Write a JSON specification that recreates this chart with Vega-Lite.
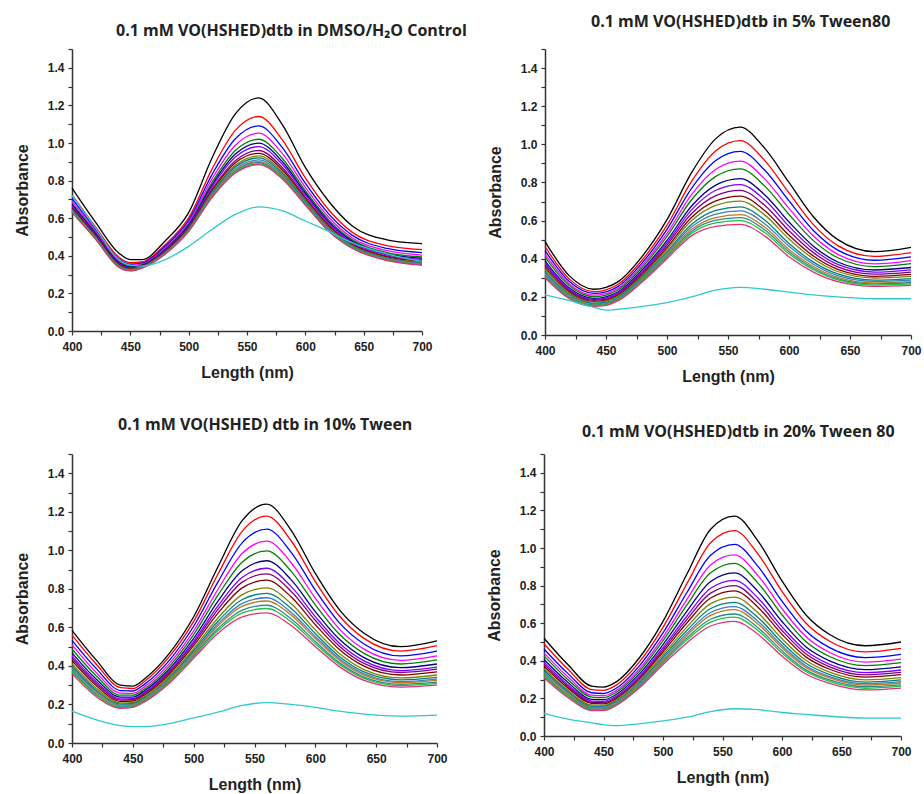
{
"$schema":"https://vega.github.io/schema/vega-lite/v6.json",
"background":"white",
"padding":{"left":14,"top":14,"right":5,"bottom":5},
"spacing":33,
"config":{
"view":{"stroke":null},
"title":{"font":"Open Sans","fontSize":16,"fontWeight":"bold","color":"#222222","anchor":"start","frame":"group"},
"axis":{"domainColor":"#333333","domainWidth":1.5,"tickColor":"#333333","tickSize":4,"tickWidth":1.2,"labelFont":"Liberation Sans","labelFontSize":12,"labelFontWeight":"bold","labelColor":"#222222","titleFont":"Liberation Sans","titleFontSize":16,"titleFontWeight":"bold","titleColor":"#222222","grid":false,"labelOverlap":false,"labelFlush":false,"labelPadding":4},
"axisX":{"titlePadding":12,"labelPadding":6},
"axisY":{"titlePadding":17},
"line":{"strokeWidth":1.3,"interpolate":"monotone"}
},
"datasets":{
"A":[
{"s":0,"x":400,"y":0.76},{"s":0,"x":420,"y":0.58},{"s":0,"x":440,"y":0.415},{"s":0,"x":450,"y":0.38},{"s":0,"x":460,"y":0.38},{"s":0,"x":480,"y":0.48},{"s":0,"x":500,"y":0.63},{"s":0,"x":520,"y":0.92},{"s":0,"x":540,"y":1.155},{"s":0,"x":560,"y":1.24},{"s":0,"x":580,"y":1.1},{"s":0,"x":600,"y":0.87},{"s":0,"x":620,"y":0.69},{"s":0,"x":640,"y":0.56},{"s":0,"x":670,"y":0.485},{"s":0,"x":700,"y":0.465},
{"s":1,"x":400,"y":0.724},{"s":1,"x":420,"y":0.555},{"s":1,"x":440,"y":0.394},{"s":1,"x":450,"y":0.363},{"s":1,"x":460,"y":0.367},{"s":1,"x":480,"y":0.46},{"s":1,"x":500,"y":0.602},{"s":1,"x":520,"y":0.861},{"s":1,"x":540,"y":1.067},{"s":1,"x":560,"y":1.141},{"s":1,"x":580,"y":1.019},{"s":1,"x":600,"y":0.814},{"s":1,"x":620,"y":0.645},{"s":1,"x":640,"y":0.526},{"s":1,"x":670,"y":0.454},{"s":1,"x":700,"y":0.433},
{"s":2,"x":400,"y":0.705},{"s":2,"x":420,"y":0.542},{"s":2,"x":440,"y":0.384},{"s":2,"x":450,"y":0.355},{"s":2,"x":460,"y":0.361},{"s":2,"x":480,"y":0.451},{"s":2,"x":500,"y":0.588},{"s":2,"x":520,"y":0.832},{"s":2,"x":540,"y":1.023},{"s":2,"x":560,"y":1.091},{"s":2,"x":580,"y":0.978},{"s":2,"x":600,"y":0.786},{"s":2,"x":620,"y":0.623},{"s":2,"x":640,"y":0.51},{"s":2,"x":670,"y":0.439},{"s":2,"x":700,"y":0.417},
{"s":3,"x":400,"y":0.691},{"s":3,"x":420,"y":0.532},{"s":3,"x":440,"y":0.375},{"s":3,"x":450,"y":0.348},{"s":3,"x":460,"y":0.356},{"s":3,"x":480,"y":0.443},{"s":3,"x":500,"y":0.577},{"s":3,"x":520,"y":0.809},{"s":3,"x":540,"y":0.988},{"s":3,"x":560,"y":1.052},{"s":3,"x":580,"y":0.946},{"s":3,"x":600,"y":0.764},{"s":3,"x":620,"y":0.605},{"s":3,"x":640,"y":0.496},{"s":3,"x":670,"y":0.427},{"s":3,"x":700,"y":0.404},
{"s":4,"x":400,"y":0.679},{"s":4,"x":420,"y":0.524},{"s":4,"x":440,"y":0.369},{"s":4,"x":450,"y":0.343},{"s":4,"x":460,"y":0.352},{"s":4,"x":480,"y":0.437},{"s":4,"x":500,"y":0.568},{"s":4,"x":520,"y":0.79},{"s":4,"x":540,"y":0.96},{"s":4,"x":560,"y":1.02},{"s":4,"x":580,"y":0.92},{"s":4,"x":600,"y":0.746},{"s":4,"x":620,"y":0.591},{"s":4,"x":640,"y":0.486},{"s":4,"x":670,"y":0.417},{"s":4,"x":700,"y":0.394},
{"s":5,"x":400,"y":0.672},{"s":5,"x":420,"y":0.519},{"s":5,"x":440,"y":0.364},{"s":5,"x":450,"y":0.339},{"s":5,"x":460,"y":0.349},{"s":5,"x":480,"y":0.432},{"s":5,"x":500,"y":0.562},{"s":5,"x":520,"y":0.777},{"s":5,"x":540,"y":0.941},{"s":5,"x":560,"y":0.999},{"s":5,"x":580,"y":0.903},{"s":5,"x":600,"y":0.734},{"s":5,"x":620,"y":0.581},{"s":5,"x":640,"y":0.478},{"s":5,"x":670,"y":0.41},{"s":5,"x":700,"y":0.387},
{"s":6,"x":400,"y":0.665},{"s":6,"x":420,"y":0.514},{"s":6,"x":440,"y":0.36},{"s":6,"x":450,"y":0.336},{"s":6,"x":460,"y":0.347},{"s":6,"x":480,"y":0.429},{"s":6,"x":500,"y":0.557},{"s":6,"x":520,"y":0.767},{"s":6,"x":540,"y":0.925},{"s":6,"x":560,"y":0.981},{"s":6,"x":580,"y":0.888},{"s":6,"x":600,"y":0.724},{"s":6,"x":620,"y":0.573},{"s":6,"x":640,"y":0.472},{"s":6,"x":670,"y":0.405},{"s":6,"x":700,"y":0.381},
{"s":7,"x":400,"y":0.657},{"s":7,"x":420,"y":0.509},{"s":7,"x":440,"y":0.356},{"s":7,"x":450,"y":0.333},{"s":7,"x":460,"y":0.345},{"s":7,"x":480,"y":0.425},{"s":7,"x":500,"y":0.551},{"s":7,"x":520,"y":0.754},{"s":7,"x":540,"y":0.906},{"s":7,"x":560,"y":0.96},{"s":7,"x":580,"y":0.871},{"s":7,"x":600,"y":0.712},{"s":7,"x":620,"y":0.564},{"s":7,"x":640,"y":0.465},{"s":7,"x":670,"y":0.398},{"s":7,"x":700,"y":0.374},
{"s":8,"x":400,"y":0.652},{"s":8,"x":420,"y":0.505},{"s":8,"x":440,"y":0.353},{"s":8,"x":450,"y":0.33},{"s":8,"x":460,"y":0.343},{"s":8,"x":480,"y":0.422},{"s":8,"x":500,"y":0.547},{"s":8,"x":520,"y":0.746},{"s":8,"x":540,"y":0.894},{"s":8,"x":560,"y":0.945},{"s":8,"x":580,"y":0.859},{"s":8,"x":600,"y":0.704},{"s":8,"x":620,"y":0.557},{"s":8,"x":640,"y":0.46},{"s":8,"x":670,"y":0.394},{"s":8,"x":700,"y":0.37},
{"s":9,"x":400,"y":0.647},{"s":9,"x":420,"y":0.502},{"s":9,"x":440,"y":0.35},{"s":9,"x":450,"y":0.328},{"s":9,"x":460,"y":0.341},{"s":9,"x":480,"y":0.419},{"s":9,"x":500,"y":0.543},{"s":9,"x":520,"y":0.737},{"s":9,"x":540,"y":0.881},{"s":9,"x":560,"y":0.931},{"s":9,"x":580,"y":0.848},{"s":9,"x":600,"y":0.696},{"s":9,"x":620,"y":0.551},{"s":9,"x":640,"y":0.456},{"s":9,"x":670,"y":0.389},{"s":9,"x":700,"y":0.365},
{"s":10,"x":400,"y":0.643},{"s":10,"x":420,"y":0.499},{"s":10,"x":440,"y":0.348},{"s":10,"x":450,"y":0.326},{"s":10,"x":460,"y":0.34},{"s":10,"x":480,"y":0.417},{"s":10,"x":500,"y":0.54},{"s":10,"x":520,"y":0.731},{"s":10,"x":540,"y":0.872},{"s":10,"x":560,"y":0.921},{"s":10,"x":580,"y":0.839},{"s":10,"x":600,"y":0.69},{"s":10,"x":620,"y":0.546},{"s":10,"x":640,"y":0.452},{"s":10,"x":670,"y":0.386},{"s":10,"x":700,"y":0.362},
{"s":11,"x":400,"y":0.639},{"s":11,"x":420,"y":0.496},{"s":11,"x":440,"y":0.345},{"s":11,"x":450,"y":0.324},{"s":11,"x":460,"y":0.338},{"s":11,"x":480,"y":0.415},{"s":11,"x":500,"y":0.537},{"s":11,"x":520,"y":0.725},{"s":11,"x":540,"y":0.862},{"s":11,"x":560,"y":0.91},{"s":11,"x":580,"y":0.83},{"s":11,"x":600,"y":0.684},{"s":11,"x":620,"y":0.541},{"s":11,"x":640,"y":0.448},{"s":11,"x":670,"y":0.383},{"s":11,"x":700,"y":0.358},
{"s":12,"x":400,"y":0.636},{"s":12,"x":420,"y":0.494},{"s":12,"x":440,"y":0.343},{"s":12,"x":450,"y":0.323},{"s":12,"x":460,"y":0.337},{"s":12,"x":480,"y":0.413},{"s":12,"x":500,"y":0.535},{"s":12,"x":520,"y":0.72},{"s":12,"x":540,"y":0.854},{"s":12,"x":560,"y":0.901},{"s":12,"x":580,"y":0.823},{"s":12,"x":600,"y":0.679},{"s":12,"x":620,"y":0.537},{"s":12,"x":640,"y":0.445},{"s":12,"x":670,"y":0.38},{"s":12,"x":700,"y":0.355},
{"s":13,"x":400,"y":0.634},{"s":13,"x":420,"y":0.493},{"s":13,"x":440,"y":0.342},{"s":13,"x":450,"y":0.322},{"s":13,"x":460,"y":0.336},{"s":13,"x":480,"y":0.412},{"s":13,"x":500,"y":0.533},{"s":13,"x":520,"y":0.716},{"s":13,"x":540,"y":0.85},{"s":13,"x":560,"y":0.896},{"s":13,"x":580,"y":0.819},{"s":13,"x":600,"y":0.676},{"s":13,"x":620,"y":0.535},{"s":13,"x":640,"y":0.444},{"s":13,"x":670,"y":0.378},{"s":13,"x":700,"y":0.353},
{"s":14,"x":400,"y":0.632},{"s":14,"x":420,"y":0.491},{"s":14,"x":440,"y":0.341},{"s":14,"x":450,"y":0.321},{"s":14,"x":460,"y":0.336},{"s":14,"x":480,"y":0.411},{"s":14,"x":500,"y":0.532},{"s":14,"x":520,"y":0.713},{"s":14,"x":540,"y":0.845},{"s":14,"x":560,"y":0.89},{"s":14,"x":580,"y":0.814},{"s":14,"x":600,"y":0.673},{"s":14,"x":620,"y":0.532},{"s":14,"x":640,"y":0.442},{"s":14,"x":670,"y":0.377},{"s":14,"x":700,"y":0.352},
{"s":15,"x":400,"y":0.63},{"s":15,"x":420,"y":0.49},{"s":15,"x":440,"y":0.34},{"s":15,"x":450,"y":0.32},{"s":15,"x":460,"y":0.335},{"s":15,"x":480,"y":0.41},{"s":15,"x":500,"y":0.53},{"s":15,"x":520,"y":0.71},{"s":15,"x":540,"y":0.84},{"s":15,"x":560,"y":0.885},{"s":15,"x":580,"y":0.81},{"s":15,"x":600,"y":0.67},{"s":15,"x":620,"y":0.53},{"s":15,"x":640,"y":0.44},{"s":15,"x":670,"y":0.375},{"s":15,"x":700,"y":0.35},
{"s":16,"x":400,"y":0.72},{"s":16,"x":420,"y":0.55},{"s":16,"x":440,"y":0.38},{"s":16,"x":450,"y":0.35},{"s":16,"x":460,"y":0.345},{"s":16,"x":480,"y":0.38},{"s":16,"x":500,"y":0.45},{"s":16,"x":520,"y":0.54},{"s":16,"x":540,"y":0.62},{"s":16,"x":560,"y":0.66},{"s":16,"x":580,"y":0.64},{"s":16,"x":600,"y":0.585},{"s":16,"x":620,"y":0.53},{"s":16,"x":640,"y":0.47},{"s":16,"x":670,"y":0.41},{"s":16,"x":700,"y":0.37}
],
"B":[
{"s":0,"x":400,"y":0.49},{"s":0,"x":420,"y":0.31},{"s":0,"x":440,"y":0.24},{"s":0,"x":450,"y":0.25},{"s":0,"x":460,"y":0.28},{"s":0,"x":480,"y":0.415},{"s":0,"x":500,"y":0.605},{"s":0,"x":520,"y":0.85},{"s":0,"x":540,"y":1.03},{"s":0,"x":560,"y":1.09},{"s":0,"x":580,"y":0.98},{"s":0,"x":600,"y":0.8},{"s":0,"x":620,"y":0.62},{"s":0,"x":640,"y":0.5},{"s":0,"x":670,"y":0.437},{"s":0,"x":700,"y":0.46},
{"s":1,"x":400,"y":0.463},{"s":1,"x":420,"y":0.293},{"s":1,"x":440,"y":0.227},{"s":1,"x":450,"y":0.237},{"s":1,"x":460,"y":0.266},{"s":1,"x":480,"y":0.396},{"s":1,"x":500,"y":0.576},{"s":1,"x":520,"y":0.804},{"s":1,"x":540,"y":0.966},{"s":1,"x":560,"y":1.019},{"s":1,"x":580,"y":0.916},{"s":1,"x":600,"y":0.745},{"s":1,"x":620,"y":0.579},{"s":1,"x":640,"y":0.469},{"s":1,"x":670,"y":0.412},{"s":1,"x":700,"y":0.432},
{"s":2,"x":400,"y":0.443},{"s":2,"x":420,"y":0.28},{"s":2,"x":440,"y":0.218},{"s":2,"x":450,"y":0.226},{"s":2,"x":460,"y":0.255},{"s":2,"x":480,"y":0.381},{"s":2,"x":500,"y":0.554},{"s":2,"x":520,"y":0.768},{"s":2,"x":540,"y":0.915},{"s":2,"x":560,"y":0.963},{"s":2,"x":580,"y":0.865},{"s":2,"x":600,"y":0.703},{"s":2,"x":620,"y":0.548},{"s":2,"x":640,"y":0.445},{"s":2,"x":670,"y":0.392},{"s":2,"x":700,"y":0.41},
{"s":3,"x":400,"y":0.424},{"s":3,"x":420,"y":0.268},{"s":3,"x":440,"y":0.209},{"s":3,"x":450,"y":0.217},{"s":3,"x":460,"y":0.245},{"s":3,"x":480,"y":0.368},{"s":3,"x":500,"y":0.533},{"s":3,"x":520,"y":0.735},{"s":3,"x":540,"y":0.869},{"s":3,"x":560,"y":0.912},{"s":3,"x":580,"y":0.819},{"s":3,"x":600,"y":0.664},{"s":3,"x":620,"y":0.519},{"s":3,"x":640,"y":0.423},{"s":3,"x":670,"y":0.373},{"s":3,"x":700,"y":0.39},
{"s":4,"x":400,"y":0.408},{"s":4,"x":420,"y":0.258},{"s":4,"x":440,"y":0.201},{"s":4,"x":450,"y":0.209},{"s":4,"x":460,"y":0.237},{"s":4,"x":480,"y":0.357},{"s":4,"x":500,"y":0.517},{"s":4,"x":520,"y":0.708},{"s":4,"x":540,"y":0.832},{"s":4,"x":560,"y":0.871},{"s":4,"x":580,"y":0.782},{"s":4,"x":600,"y":0.632},{"s":4,"x":620,"y":0.495},{"s":4,"x":640,"y":0.405},{"s":4,"x":670,"y":0.359},{"s":4,"x":700,"y":0.374},
{"s":5,"x":400,"y":0.389},{"s":5,"x":420,"y":0.246},{"s":5,"x":440,"y":0.192},{"s":5,"x":450,"y":0.2},{"s":5,"x":460,"y":0.227},{"s":5,"x":480,"y":0.344},{"s":5,"x":500,"y":0.496},{"s":5,"x":520,"y":0.675},{"s":5,"x":540,"y":0.786},{"s":5,"x":560,"y":0.82},{"s":5,"x":580,"y":0.736},{"s":5,"x":600,"y":0.593},{"s":5,"x":620,"y":0.466},{"s":5,"x":640,"y":0.383},{"s":5,"x":670,"y":0.341},{"s":5,"x":700,"y":0.354},
{"s":6,"x":400,"y":0.378},{"s":6,"x":420,"y":0.239},{"s":6,"x":440,"y":0.187},{"s":6,"x":450,"y":0.194},{"s":6,"x":460,"y":0.221},{"s":6,"x":480,"y":0.335},{"s":6,"x":500,"y":0.484},{"s":6,"x":520,"y":0.655},{"s":6,"x":540,"y":0.759},{"s":6,"x":560,"y":0.789},{"s":6,"x":580,"y":0.709},{"s":6,"x":600,"y":0.57},{"s":6,"x":620,"y":0.449},{"s":6,"x":640,"y":0.37},{"s":6,"x":670,"y":0.33},{"s":6,"x":700,"y":0.342},
{"s":7,"x":400,"y":0.367},{"s":7,"x":420,"y":0.232},{"s":7,"x":440,"y":0.182},{"s":7,"x":450,"y":0.188},{"s":7,"x":460,"y":0.215},{"s":7,"x":480,"y":0.327},{"s":7,"x":500,"y":0.472},{"s":7,"x":520,"y":0.636},{"s":7,"x":540,"y":0.731},{"s":7,"x":560,"y":0.759},{"s":7,"x":580,"y":0.681},{"s":7,"x":600,"y":0.547},{"s":7,"x":620,"y":0.432},{"s":7,"x":640,"y":0.357},{"s":7,"x":670,"y":0.319},{"s":7,"x":700,"y":0.33},
{"s":8,"x":400,"y":0.355},{"s":8,"x":420,"y":0.225},{"s":8,"x":440,"y":0.176},{"s":8,"x":450,"y":0.183},{"s":8,"x":460,"y":0.209},{"s":8,"x":480,"y":0.319},{"s":8,"x":500,"y":0.459},{"s":8,"x":520,"y":0.616},{"s":8,"x":540,"y":0.703},{"s":8,"x":560,"y":0.728},{"s":8,"x":580,"y":0.653},{"s":8,"x":600,"y":0.523},{"s":8,"x":620,"y":0.414},{"s":8,"x":640,"y":0.344},{"s":8,"x":670,"y":0.308},{"s":8,"x":700,"y":0.318},
{"s":9,"x":400,"y":0.346},{"s":9,"x":420,"y":0.219},{"s":9,"x":440,"y":0.172},{"s":9,"x":450,"y":0.178},{"s":9,"x":460,"y":0.204},{"s":9,"x":480,"y":0.312},{"s":9,"x":500,"y":0.449},{"s":9,"x":520,"y":0.599},{"s":9,"x":540,"y":0.68},{"s":9,"x":560,"y":0.702},{"s":9,"x":580,"y":0.63},{"s":9,"x":600,"y":0.504},{"s":9,"x":620,"y":0.4},{"s":9,"x":640,"y":0.333},{"s":9,"x":670,"y":0.299},{"s":9,"x":700,"y":0.308},
{"s":10,"x":400,"y":0.334},{"s":10,"x":420,"y":0.212},{"s":10,"x":440,"y":0.166},{"s":10,"x":450,"y":0.172},{"s":10,"x":460,"y":0.198},{"s":10,"x":480,"y":0.304},{"s":10,"x":500,"y":0.437},{"s":10,"x":520,"y":0.579},{"s":10,"x":540,"y":0.653},{"s":10,"x":560,"y":0.672},{"s":10,"x":580,"y":0.603},{"s":10,"x":600,"y":0.48},{"s":10,"x":620,"y":0.382},{"s":10,"x":640,"y":0.32},{"s":10,"x":670,"y":0.288},{"s":10,"x":700,"y":0.296},
{"s":11,"x":400,"y":0.327},{"s":11,"x":420,"y":0.207},{"s":11,"x":440,"y":0.163},{"s":11,"x":450,"y":0.168},{"s":11,"x":460,"y":0.194},{"s":11,"x":480,"y":0.299},{"s":11,"x":500,"y":0.429},{"s":11,"x":520,"y":0.566},{"s":11,"x":540,"y":0.634},{"s":11,"x":560,"y":0.651},{"s":11,"x":580,"y":0.584},{"s":11,"x":600,"y":0.465},{"s":11,"x":620,"y":0.371},{"s":11,"x":640,"y":0.311},{"s":11,"x":670,"y":0.281},{"s":11,"x":700,"y":0.288},
{"s":12,"x":400,"y":0.319},{"s":12,"x":420,"y":0.202},{"s":12,"x":440,"y":0.159},{"s":12,"x":450,"y":0.165},{"s":12,"x":460,"y":0.19},{"s":12,"x":480,"y":0.294},{"s":12,"x":500,"y":0.421},{"s":12,"x":520,"y":0.553},{"s":12,"x":540,"y":0.616},{"s":12,"x":560,"y":0.631},{"s":12,"x":580,"y":0.566},{"s":12,"x":600,"y":0.449},{"s":12,"x":620,"y":0.359},{"s":12,"x":640,"y":0.302},{"s":12,"x":670,"y":0.273},{"s":12,"x":700,"y":0.28},
{"s":13,"x":400,"y":0.313},{"s":13,"x":420,"y":0.198},{"s":13,"x":440,"y":0.156},{"s":13,"x":450,"y":0.162},{"s":13,"x":460,"y":0.187},{"s":13,"x":480,"y":0.29},{"s":13,"x":500,"y":0.414},{"s":13,"x":520,"y":0.543},{"s":13,"x":540,"y":0.602},{"s":13,"x":560,"y":0.616},{"s":13,"x":580,"y":0.552},{"s":13,"x":600,"y":0.437},{"s":13,"x":620,"y":0.35},{"s":13,"x":640,"y":0.295},{"s":13,"x":670,"y":0.268},{"s":13,"x":700,"y":0.274},
{"s":14,"x":400,"y":0.308},{"s":14,"x":420,"y":0.195},{"s":14,"x":440,"y":0.154},{"s":14,"x":450,"y":0.159},{"s":14,"x":460,"y":0.184},{"s":14,"x":480,"y":0.285},{"s":14,"x":500,"y":0.408},{"s":14,"x":520,"y":0.533},{"s":14,"x":540,"y":0.588},{"s":14,"x":560,"y":0.6},{"s":14,"x":580,"y":0.538},{"s":14,"x":600,"y":0.426},{"s":14,"x":620,"y":0.342},{"s":14,"x":640,"y":0.289},{"s":14,"x":670,"y":0.262},{"s":14,"x":700,"y":0.268},
{"s":15,"x":400,"y":0.3},{"s":15,"x":420,"y":0.19},{"s":15,"x":440,"y":0.15},{"s":15,"x":450,"y":0.155},{"s":15,"x":460,"y":0.18},{"s":15,"x":480,"y":0.28},{"s":15,"x":500,"y":0.4},{"s":15,"x":520,"y":0.52},{"s":15,"x":540,"y":0.57},{"s":15,"x":560,"y":0.58},{"s":15,"x":580,"y":0.52},{"s":15,"x":600,"y":0.41},{"s":15,"x":620,"y":0.33},{"s":15,"x":640,"y":0.28},{"s":15,"x":670,"y":0.255},{"s":15,"x":700,"y":0.26},
{"s":16,"x":400,"y":0.21},{"s":16,"x":420,"y":0.18},{"s":16,"x":440,"y":0.145},{"s":16,"x":450,"y":0.13},{"s":16,"x":460,"y":0.135},{"s":16,"x":480,"y":0.15},{"s":16,"x":500,"y":0.17},{"s":16,"x":520,"y":0.2},{"s":16,"x":540,"y":0.235},{"s":16,"x":560,"y":0.25},{"s":16,"x":580,"y":0.24},{"s":16,"x":600,"y":0.225},{"s":16,"x":620,"y":0.21},{"s":16,"x":640,"y":0.2},{"s":16,"x":670,"y":0.19},{"s":16,"x":700,"y":0.19}
],
"C":[
{"s":0,"x":400,"y":0.585},{"s":0,"x":420,"y":0.43},{"s":0,"x":440,"y":0.3},{"s":0,"x":450,"y":0.295},{"s":0,"x":460,"y":0.335},{"s":0,"x":480,"y":0.465},{"s":0,"x":500,"y":0.655},{"s":0,"x":520,"y":0.915},{"s":0,"x":540,"y":1.155},{"s":0,"x":560,"y":1.24},{"s":0,"x":580,"y":1.105},{"s":0,"x":600,"y":0.88},{"s":0,"x":620,"y":0.69},{"s":0,"x":640,"y":0.57},{"s":0,"x":670,"y":0.5},{"s":0,"x":700,"y":0.53},
{"s":1,"x":400,"y":0.56},{"s":1,"x":420,"y":0.409},{"s":1,"x":440,"y":0.287},{"s":1,"x":450,"y":0.283},{"s":1,"x":460,"y":0.322},{"s":1,"x":480,"y":0.448},{"s":1,"x":500,"y":0.631},{"s":1,"x":520,"y":0.877},{"s":1,"x":540,"y":1.1},{"s":1,"x":560,"y":1.178},{"s":1,"x":580,"y":1.051},{"s":1,"x":600,"y":0.838},{"s":1,"x":620,"y":0.658},{"s":1,"x":640,"y":0.543},{"s":1,"x":670,"y":0.477},{"s":1,"x":700,"y":0.505},
{"s":2,"x":400,"y":0.533},{"s":2,"x":420,"y":0.386},{"s":2,"x":440,"y":0.272},{"s":2,"x":450,"y":0.27},{"s":2,"x":460,"y":0.307},{"s":2,"x":480,"y":0.429},{"s":2,"x":500,"y":0.606},{"s":2,"x":520,"y":0.836},{"s":2,"x":540,"y":1.04},{"s":2,"x":560,"y":1.11},{"s":2,"x":580,"y":0.991},{"s":2,"x":600,"y":0.793},{"s":2,"x":620,"y":0.622},{"s":2,"x":640,"y":0.514},{"s":2,"x":670,"y":0.452},{"s":2,"x":700,"y":0.477},
{"s":3,"x":400,"y":0.509},{"s":3,"x":420,"y":0.365},{"s":3,"x":440,"y":0.259},{"s":3,"x":450,"y":0.258},{"s":3,"x":460,"y":0.294},{"s":3,"x":480,"y":0.412},{"s":3,"x":500,"y":0.582},{"s":3,"x":520,"y":0.798},{"s":3,"x":540,"y":0.985},{"s":3,"x":560,"y":1.048},{"s":3,"x":580,"y":0.937},{"s":3,"x":600,"y":0.751},{"s":3,"x":620,"y":0.59},{"s":3,"x":640,"y":0.487},{"s":3,"x":670,"y":0.429},{"s":3,"x":700,"y":0.452},
{"s":4,"x":400,"y":0.488},{"s":4,"x":420,"y":0.348},{"s":4,"x":440,"y":0.248},{"s":4,"x":450,"y":0.248},{"s":4,"x":460,"y":0.283},{"s":4,"x":480,"y":0.398},{"s":4,"x":500,"y":0.563},{"s":4,"x":520,"y":0.767},{"s":4,"x":540,"y":0.94},{"s":4,"x":560,"y":0.997},{"s":4,"x":580,"y":0.892},{"s":4,"x":600,"y":0.717},{"s":4,"x":620,"y":0.563},{"s":4,"x":640,"y":0.465},{"s":4,"x":670,"y":0.41},{"s":4,"x":700,"y":0.431},
{"s":5,"x":400,"y":0.468},{"s":5,"x":420,"y":0.331},{"s":5,"x":440,"y":0.238},{"s":5,"x":450,"y":0.238},{"s":5,"x":460,"y":0.273},{"s":5,"x":480,"y":0.384},{"s":5,"x":500,"y":0.543},{"s":5,"x":520,"y":0.736},{"s":5,"x":540,"y":0.895},{"s":5,"x":560,"y":0.946},{"s":5,"x":580,"y":0.848},{"s":5,"x":600,"y":0.682},{"s":5,"x":620,"y":0.537},{"s":5,"x":640,"y":0.443},{"s":5,"x":670,"y":0.391},{"s":5,"x":700,"y":0.41},
{"s":6,"x":400,"y":0.452},{"s":6,"x":420,"y":0.318},{"s":6,"x":440,"y":0.229},{"s":6,"x":450,"y":0.23},{"s":6,"x":460,"y":0.264},{"s":6,"x":480,"y":0.374},{"s":6,"x":500,"y":0.528},{"s":6,"x":520,"y":0.712},{"s":6,"x":540,"y":0.86},{"s":6,"x":560,"y":0.907},{"s":6,"x":580,"y":0.813},{"s":6,"x":600,"y":0.656},{"s":6,"x":620,"y":0.516},{"s":6,"x":640,"y":0.426},{"s":6,"x":670,"y":0.376},{"s":6,"x":700,"y":0.394},
{"s":7,"x":400,"y":0.441},{"s":7,"x":420,"y":0.308},{"s":7,"x":440,"y":0.223},{"s":7,"x":450,"y":0.225},{"s":7,"x":460,"y":0.258},{"s":7,"x":480,"y":0.366},{"s":7,"x":500,"y":0.517},{"s":7,"x":520,"y":0.694},{"s":7,"x":540,"y":0.835},{"s":7,"x":560,"y":0.878},{"s":7,"x":580,"y":0.788},{"s":7,"x":600,"y":0.637},{"s":7,"x":620,"y":0.501},{"s":7,"x":640,"y":0.413},{"s":7,"x":670,"y":0.366},{"s":7,"x":700,"y":0.383},
{"s":8,"x":400,"y":0.428},{"s":8,"x":420,"y":0.297},{"s":8,"x":440,"y":0.216},{"s":8,"x":450,"y":0.218},{"s":8,"x":460,"y":0.251},{"s":8,"x":480,"y":0.357},{"s":8,"x":500,"y":0.505},{"s":8,"x":520,"y":0.674},{"s":8,"x":540,"y":0.805},{"s":8,"x":560,"y":0.845},{"s":8,"x":580,"y":0.759},{"s":8,"x":600,"y":0.614},{"s":8,"x":620,"y":0.484},{"s":8,"x":640,"y":0.399},{"s":8,"x":670,"y":0.353},{"s":8,"x":700,"y":0.369},
{"s":9,"x":400,"y":0.412},{"s":9,"x":420,"y":0.284},{"s":9,"x":440,"y":0.208},{"s":9,"x":450,"y":0.21},{"s":9,"x":460,"y":0.243},{"s":9,"x":480,"y":0.346},{"s":9,"x":500,"y":0.49},{"s":9,"x":520,"y":0.649},{"s":9,"x":540,"y":0.77},{"s":9,"x":560,"y":0.805},{"s":9,"x":580,"y":0.724},{"s":9,"x":600,"y":0.587},{"s":9,"x":620,"y":0.463},{"s":9,"x":640,"y":0.381},{"s":9,"x":670,"y":0.338},{"s":9,"x":700,"y":0.353},
{"s":10,"x":400,"y":0.401},{"s":10,"x":420,"y":0.274},{"s":10,"x":440,"y":0.202},{"s":10,"x":450,"y":0.205},{"s":10,"x":460,"y":0.237},{"s":10,"x":480,"y":0.338},{"s":10,"x":500,"y":0.479},{"s":10,"x":520,"y":0.632},{"s":10,"x":540,"y":0.745},{"s":10,"x":560,"y":0.777},{"s":10,"x":580,"y":0.699},{"s":10,"x":600,"y":0.568},{"s":10,"x":620,"y":0.448},{"s":10,"x":640,"y":0.369},{"s":10,"x":670,"y":0.328},{"s":10,"x":700,"y":0.341},
{"s":11,"x":400,"y":0.392},{"s":11,"x":420,"y":0.267},{"s":11,"x":440,"y":0.197},{"s":11,"x":450,"y":0.2},{"s":11,"x":460,"y":0.232},{"s":11,"x":480,"y":0.332},{"s":11,"x":500,"y":0.47},{"s":11,"x":520,"y":0.618},{"s":11,"x":540,"y":0.725},{"s":11,"x":560,"y":0.754},{"s":11,"x":580,"y":0.679},{"s":11,"x":600,"y":0.553},{"s":11,"x":620,"y":0.436},{"s":11,"x":640,"y":0.359},{"s":11,"x":670,"y":0.319},{"s":11,"x":700,"y":0.332},
{"s":12,"x":400,"y":0.385},{"s":12,"x":420,"y":0.261},{"s":12,"x":440,"y":0.193},{"s":12,"x":450,"y":0.197},{"s":12,"x":460,"y":0.228},{"s":12,"x":480,"y":0.327},{"s":12,"x":500,"y":0.464},{"s":12,"x":520,"y":0.608},{"s":12,"x":540,"y":0.71},{"s":12,"x":560,"y":0.737},{"s":12,"x":580,"y":0.665},{"s":12,"x":600,"y":0.542},{"s":12,"x":620,"y":0.428},{"s":12,"x":640,"y":0.352},{"s":12,"x":670,"y":0.313},{"s":12,"x":700,"y":0.325},
{"s":13,"x":400,"y":0.376},{"s":13,"x":420,"y":0.253},{"s":13,"x":440,"y":0.188},{"s":13,"x":450,"y":0.193},{"s":13,"x":460,"y":0.223},{"s":13,"x":480,"y":0.321},{"s":13,"x":500,"y":0.455},{"s":13,"x":520,"y":0.594},{"s":13,"x":540,"y":0.69},{"s":13,"x":560,"y":0.715},{"s":13,"x":580,"y":0.645},{"s":13,"x":600,"y":0.527},{"s":13,"x":620,"y":0.416},{"s":13,"x":640,"y":0.342},{"s":13,"x":670,"y":0.305},{"s":13,"x":700,"y":0.316},
{"s":14,"x":400,"y":0.369},{"s":14,"x":420,"y":0.248},{"s":14,"x":440,"y":0.185},{"s":14,"x":450,"y":0.189},{"s":14,"x":460,"y":0.22},{"s":14,"x":480,"y":0.316},{"s":14,"x":500,"y":0.449},{"s":14,"x":520,"y":0.584},{"s":14,"x":540,"y":0.675},{"s":14,"x":560,"y":0.698},{"s":14,"x":580,"y":0.63},{"s":14,"x":600,"y":0.515},{"s":14,"x":620,"y":0.407},{"s":14,"x":640,"y":0.335},{"s":14,"x":670,"y":0.298},{"s":14,"x":700,"y":0.309},
{"s":15,"x":400,"y":0.36},{"s":15,"x":420,"y":0.24},{"s":15,"x":440,"y":0.18},{"s":15,"x":450,"y":0.185},{"s":15,"x":460,"y":0.215},{"s":15,"x":480,"y":0.31},{"s":15,"x":500,"y":0.44},{"s":15,"x":520,"y":0.57},{"s":15,"x":540,"y":0.655},{"s":15,"x":560,"y":0.675},{"s":15,"x":580,"y":0.61},{"s":15,"x":600,"y":0.5},{"s":15,"x":620,"y":0.395},{"s":15,"x":640,"y":0.325},{"s":15,"x":670,"y":0.29},{"s":15,"x":700,"y":0.3},
{"s":16,"x":400,"y":0.165},{"s":16,"x":420,"y":0.12},{"s":16,"x":440,"y":0.09},{"s":16,"x":450,"y":0.085},{"s":16,"x":460,"y":0.085},{"s":16,"x":480,"y":0.1},{"s":16,"x":500,"y":0.13},{"s":16,"x":520,"y":0.16},{"s":16,"x":540,"y":0.195},{"s":16,"x":560,"y":0.21},{"s":16,"x":580,"y":0.2},{"s":16,"x":600,"y":0.185},{"s":16,"x":620,"y":0.165},{"s":16,"x":640,"y":0.15},{"s":16,"x":670,"y":0.14},{"s":16,"x":700,"y":0.145}
],
"D":[
{"s":0,"x":400,"y":0.52},{"s":0,"x":420,"y":0.38},{"s":0,"x":440,"y":0.265},{"s":0,"x":450,"y":0.26},{"s":0,"x":460,"y":0.285},{"s":0,"x":480,"y":0.415},{"s":0,"x":500,"y":0.61},{"s":0,"x":520,"y":0.86},{"s":0,"x":540,"y":1.1},{"s":0,"x":560,"y":1.17},{"s":0,"x":580,"y":1.035},{"s":0,"x":600,"y":0.825},{"s":0,"x":620,"y":0.645},{"s":0,"x":640,"y":0.54},{"s":0,"x":670,"y":0.48},{"s":0,"x":700,"y":0.5},
{"s":1,"x":400,"y":0.491},{"s":1,"x":420,"y":0.356},{"s":1,"x":440,"y":0.247},{"s":1,"x":450,"y":0.243},{"s":1,"x":460,"y":0.268},{"s":1,"x":480,"y":0.393},{"s":1,"x":500,"y":0.578},{"s":1,"x":520,"y":0.809},{"s":1,"x":540,"y":1.028},{"s":1,"x":560,"y":1.092},{"s":1,"x":580,"y":0.966},{"s":1,"x":600,"y":0.769},{"s":1,"x":620,"y":0.601},{"s":1,"x":640,"y":0.504},{"s":1,"x":670,"y":0.447},{"s":1,"x":700,"y":0.466},
{"s":2,"x":400,"y":0.463},{"s":2,"x":420,"y":0.333},{"s":2,"x":440,"y":0.23},{"s":2,"x":450,"y":0.226},{"s":2,"x":460,"y":0.251},{"s":2,"x":480,"y":0.372},{"s":2,"x":500,"y":0.548},{"s":2,"x":520,"y":0.762},{"s":2,"x":540,"y":0.961},{"s":2,"x":560,"y":1.019},{"s":2,"x":580,"y":0.901},{"s":2,"x":600,"y":0.717},{"s":2,"x":620,"y":0.56},{"s":2,"x":640,"y":0.47},{"s":2,"x":670,"y":0.417},{"s":2,"x":700,"y":0.434},
{"s":3,"x":400,"y":0.442},{"s":3,"x":420,"y":0.315},{"s":3,"x":440,"y":0.217},{"s":3,"x":450,"y":0.214},{"s":3,"x":460,"y":0.239},{"s":3,"x":480,"y":0.356},{"s":3,"x":500,"y":0.525},{"s":3,"x":520,"y":0.725},{"s":3,"x":540,"y":0.91},{"s":3,"x":560,"y":0.963},{"s":3,"x":580,"y":0.852},{"s":3,"x":600,"y":0.677},{"s":3,"x":620,"y":0.529},{"s":3,"x":640,"y":0.444},{"s":3,"x":670,"y":0.393},{"s":3,"x":700,"y":0.409},
{"s":4,"x":400,"y":0.426},{"s":4,"x":420,"y":0.301},{"s":4,"x":440,"y":0.207},{"s":4,"x":450,"y":0.204},{"s":4,"x":460,"y":0.229},{"s":4,"x":480,"y":0.343},{"s":4,"x":500,"y":0.507},{"s":4,"x":520,"y":0.696},{"s":4,"x":540,"y":0.868},{"s":4,"x":560,"y":0.918},{"s":4,"x":580,"y":0.812},{"s":4,"x":600,"y":0.645},{"s":4,"x":620,"y":0.503},{"s":4,"x":640,"y":0.423},{"s":4,"x":670,"y":0.374},{"s":4,"x":700,"y":0.39},
{"s":5,"x":400,"y":0.407},{"s":5,"x":420,"y":0.286},{"s":5,"x":440,"y":0.195},{"s":5,"x":450,"y":0.193},{"s":5,"x":460,"y":0.218},{"s":5,"x":480,"y":0.329},{"s":5,"x":500,"y":0.486},{"s":5,"x":520,"y":0.663},{"s":5,"x":540,"y":0.822},{"s":5,"x":560,"y":0.868},{"s":5,"x":580,"y":0.768},{"s":5,"x":600,"y":0.609},{"s":5,"x":620,"y":0.475},{"s":5,"x":640,"y":0.4},{"s":5,"x":670,"y":0.353},{"s":5,"x":700,"y":0.368},
{"s":6,"x":400,"y":0.392},{"s":6,"x":420,"y":0.273},{"s":6,"x":440,"y":0.186},{"s":6,"x":450,"y":0.184},{"s":6,"x":460,"y":0.209},{"s":6,"x":480,"y":0.317},{"s":6,"x":500,"y":0.47},{"s":6,"x":520,"y":0.637},{"s":6,"x":540,"y":0.786},{"s":6,"x":560,"y":0.828},{"s":6,"x":580,"y":0.733},{"s":6,"x":600,"y":0.581},{"s":6,"x":620,"y":0.453},{"s":6,"x":640,"y":0.381},{"s":6,"x":670,"y":0.337},{"s":6,"x":700,"y":0.351},
{"s":7,"x":400,"y":0.381},{"s":7,"x":420,"y":0.265},{"s":7,"x":440,"y":0.179},{"s":7,"x":450,"y":0.178},{"s":7,"x":460,"y":0.203},{"s":7,"x":480,"y":0.309},{"s":7,"x":500,"y":0.458},{"s":7,"x":520,"y":0.619},{"s":7,"x":540,"y":0.76},{"s":7,"x":560,"y":0.8},{"s":7,"x":580,"y":0.708},{"s":7,"x":600,"y":0.561},{"s":7,"x":620,"y":0.437},{"s":7,"x":640,"y":0.368},{"s":7,"x":670,"y":0.325},{"s":7,"x":700,"y":0.338},
{"s":8,"x":400,"y":0.371},{"s":8,"x":420,"y":0.256},{"s":8,"x":440,"y":0.173},{"s":8,"x":450,"y":0.171},{"s":8,"x":460,"y":0.196},{"s":8,"x":480,"y":0.301},{"s":8,"x":500,"y":0.447},{"s":8,"x":520,"y":0.601},{"s":8,"x":540,"y":0.734},{"s":8,"x":560,"y":0.772},{"s":8,"x":580,"y":0.684},{"s":8,"x":600,"y":0.541},{"s":8,"x":620,"y":0.421},{"s":8,"x":640,"y":0.355},{"s":8,"x":670,"y":0.313},{"s":8,"x":700,"y":0.326},
{"s":9,"x":400,"y":0.358},{"s":9,"x":420,"y":0.245},{"s":9,"x":440,"y":0.165},{"s":9,"x":450,"y":0.164},{"s":9,"x":460,"y":0.189},{"s":9,"x":480,"y":0.292},{"s":9,"x":500,"y":0.433},{"s":9,"x":520,"y":0.579},{"s":9,"x":540,"y":0.704},{"s":9,"x":560,"y":0.739},{"s":9,"x":580,"y":0.654},{"s":9,"x":600,"y":0.517},{"s":9,"x":620,"y":0.403},{"s":9,"x":640,"y":0.34},{"s":9,"x":670,"y":0.299},{"s":9,"x":700,"y":0.311},
{"s":10,"x":400,"y":0.348},{"s":10,"x":420,"y":0.237},{"s":10,"x":440,"y":0.158},{"s":10,"x":450,"y":0.158},{"s":10,"x":460,"y":0.183},{"s":10,"x":480,"y":0.284},{"s":10,"x":500,"y":0.421},{"s":10,"x":520,"y":0.561},{"s":10,"x":540,"y":0.678},{"s":10,"x":560,"y":0.711},{"s":10,"x":580,"y":0.629},{"s":10,"x":600,"y":0.497},{"s":10,"x":620,"y":0.387},{"s":10,"x":640,"y":0.327},{"s":10,"x":670,"y":0.287},{"s":10,"x":700,"y":0.299},
{"s":11,"x":400,"y":0.339},{"s":11,"x":420,"y":0.23},{"s":11,"x":440,"y":0.153},{"s":11,"x":450,"y":0.153},{"s":11,"x":460,"y":0.178},{"s":11,"x":480,"y":0.277},{"s":11,"x":500,"y":0.412},{"s":11,"x":520,"y":0.546},{"s":11,"x":540,"y":0.657},{"s":11,"x":560,"y":0.688},{"s":11,"x":580,"y":0.609},{"s":11,"x":600,"y":0.481},{"s":11,"x":620,"y":0.374},{"s":11,"x":640,"y":0.316},{"s":11,"x":670,"y":0.278},{"s":11,"x":700,"y":0.289},
{"s":12,"x":400,"y":0.333},{"s":12,"x":420,"y":0.224},{"s":12,"x":440,"y":0.149},{"s":12,"x":450,"y":0.149},{"s":12,"x":460,"y":0.174},{"s":12,"x":480,"y":0.273},{"s":12,"x":500,"y":0.405},{"s":12,"x":520,"y":0.535},{"s":12,"x":540,"y":0.642},{"s":12,"x":560,"y":0.672},{"s":12,"x":580,"y":0.595},{"s":12,"x":600,"y":0.469},{"s":12,"x":620,"y":0.365},{"s":12,"x":640,"y":0.309},{"s":12,"x":670,"y":0.271},{"s":12,"x":700,"y":0.282},
{"s":13,"x":400,"y":0.325},{"s":13,"x":420,"y":0.217},{"s":13,"x":440,"y":0.144},{"s":13,"x":450,"y":0.144},{"s":13,"x":460,"y":0.169},{"s":13,"x":480,"y":0.266},{"s":13,"x":500,"y":0.396},{"s":13,"x":520,"y":0.521},{"s":13,"x":540,"y":0.621},{"s":13,"x":560,"y":0.649},{"s":13,"x":580,"y":0.575},{"s":13,"x":600,"y":0.453},{"s":13,"x":620,"y":0.352},{"s":13,"x":640,"y":0.298},{"s":13,"x":670,"y":0.262},{"s":13,"x":700,"y":0.272},
{"s":14,"x":400,"y":0.318},{"s":14,"x":420,"y":0.212},{"s":14,"x":440,"y":0.14},{"s":14,"x":450,"y":0.14},{"s":14,"x":460,"y":0.165},{"s":14,"x":480,"y":0.261},{"s":14,"x":500,"y":0.389},{"s":14,"x":520,"y":0.51},{"s":14,"x":540,"y":0.606},{"s":14,"x":560,"y":0.632},{"s":14,"x":580,"y":0.56},{"s":14,"x":600,"y":0.441},{"s":14,"x":620,"y":0.343},{"s":14,"x":640,"y":0.29},{"s":14,"x":670,"y":0.254},{"s":14,"x":700,"y":0.265},
{"s":15,"x":400,"y":0.31},{"s":15,"x":420,"y":0.205},{"s":15,"x":440,"y":0.135},{"s":15,"x":450,"y":0.135},{"s":15,"x":460,"y":0.16},{"s":15,"x":480,"y":0.255},{"s":15,"x":500,"y":0.38},{"s":15,"x":520,"y":0.495},{"s":15,"x":540,"y":0.585},{"s":15,"x":560,"y":0.61},{"s":15,"x":580,"y":0.54},{"s":15,"x":600,"y":0.425},{"s":15,"x":620,"y":0.33},{"s":15,"x":640,"y":0.28},{"s":15,"x":670,"y":0.245},{"s":15,"x":700,"y":0.255},
{"s":16,"x":400,"y":0.12},{"s":16,"x":420,"y":0.09},{"s":16,"x":440,"y":0.07},{"s":16,"x":450,"y":0.06},{"s":16,"x":460,"y":0.055},{"s":16,"x":480,"y":0.065},{"s":16,"x":500,"y":0.08},{"s":16,"x":520,"y":0.1},{"s":16,"x":540,"y":0.13},{"s":16,"x":560,"y":0.145},{"s":16,"x":580,"y":0.14},{"s":16,"x":600,"y":0.125},{"s":16,"x":620,"y":0.115},{"s":16,"x":640,"y":0.105},{"s":16,"x":670,"y":0.095},{"s":16,"x":700,"y":0.095}
]
},
"vconcat":[
{"hconcat":[
{"width":350,"height":282,"data":{"name":"A"},
"title":{"text":"0.1 mM VO(HSHED)dtb in DMSO/H₂O Control","dx":44,"offset":4},
"mark":"line",
"encoding":{
"x":{"field":"x","type":"quantitative","scale":{"domain":[400,700],"nice":false,"zero":false},"axis":{"title":"Length (nm)","values":[400,425,450,475,500,525,550,575,600,625,650,675,700],"labelExpr":"datum.value % 50 == 0 ? datum.label : ''"}},
"y":{"field":"y","type":"quantitative","scale":{"domain":[0,1.5],"nice":false},"axis":{"title":"Absorbance","values":[0,0.1,0.2,0.3,0.4,0.5,0.6,0.7,0.8,0.9,1,1.1,1.2,1.3,1.4,1.5],"labelExpr":"round(datum.value*10) % 2 == 0 ? format(datum.value, '.1f') : ''"}},
"color":{"field":"s","type":"nominal","legend":null,"scale":{"domain":[0,1,2,3,4,5,6,7,8,9,10,11,12,13,14,15,16],"range":["#000000","#FF0000","#0000FF","#FF00FF","#008000","#000080","#8000FF","#800080","#800000","#808000","#008080","#3A7FC0","#C07820","#2E8B8B","#20C040","#E0307A","#30C8D0"]}}
}},
{"width":366,"height":286,"data":{"name":"B"},
"title":{"text":"0.1 mM VO(HSHED)dtb  in 5% Tween80","dx":46,"offset":13},
"mark":"line",
"encoding":{
"x":{"field":"x","type":"quantitative","scale":{"domain":[400,700],"nice":false,"zero":false},"axis":{"title":"Length (nm)","values":[400,425,450,475,500,525,550,575,600,625,650,675,700],"labelExpr":"datum.value % 50 == 0 ? datum.label : ''"}},
"y":{"field":"y","type":"quantitative","scale":{"domain":[0,1.5],"nice":false},"axis":{"title":"Absorbance","values":[0,0.1,0.2,0.3,0.4,0.5,0.6,0.7,0.8,0.9,1,1.1,1.2,1.3,1.4,1.5],"labelExpr":"round(datum.value*10) % 2 == 0 ? format(datum.value, '.1f') : ''"}},
"color":{"field":"s","type":"nominal","legend":null,"scale":{"domain":[0,1,2,3,4,5,6,7,8,9,10,11,12,13,14,15,16],"range":["#000000","#FF0000","#0000FF","#FF00FF","#008000","#000080","#8000FF","#800080","#800000","#808000","#008080","#3A7FC0","#C07820","#2E8B8B","#20C040","#E0307A","#30C8D0"]}}
}}
],"spacing":20},
{"hconcat":[
{"width":365,"height":289,"data":{"name":"C"},
"title":{"text":"0.1 mM VO(HSHED) dtb in 10% Tween","dx":46,"offset":15},
"mark":"line",
"encoding":{
"x":{"field":"x","type":"quantitative","scale":{"domain":[400,700],"nice":false,"zero":false},"axis":{"title":"Length (nm)","values":[400,425,450,475,500,525,550,575,600,625,650,675,700],"labelExpr":"datum.value % 50 == 0 ? datum.label : ''"}},
"y":{"field":"y","type":"quantitative","scale":{"domain":[0,1.5],"nice":false},"axis":{"title":"Absorbance","values":[0,0.1,0.2,0.3,0.4,0.5,0.6,0.7,0.8,0.9,1,1.1,1.2,1.3,1.4,1.5],"labelExpr":"round(datum.value*10) % 2 == 0 ? format(datum.value, '.1f') : ''"}},
"color":{"field":"s","type":"nominal","legend":null,"scale":{"domain":[0,1,2,3,4,5,6,7,8,9,10,11,12,13,14,15,16],"range":["#000000","#FF0000","#0000FF","#FF00FF","#008000","#000080","#8000FF","#800080","#800000","#808000","#008080","#3A7FC0","#C07820","#2E8B8B","#20C040","#E0307A","#30C8D0"]}}
}},
{"width":357,"height":282,"data":{"name":"D"},
"title":{"text":"0.1 mM VO(HSHED)dtb in 20% Tween 80","dx":38,"offset":8},
"mark":"line",
"encoding":{
"x":{"field":"x","type":"quantitative","scale":{"domain":[400,700],"nice":false,"zero":false},"axis":{"title":"Length (nm)","values":[400,425,450,475,500,525,550,575,600,625,650,675,700],"labelExpr":"datum.value % 50 == 0 ? datum.label : ''"}},
"y":{"field":"y","type":"quantitative","scale":{"domain":[0,1.5],"nice":false},"axis":{"title":"Absorbance","values":[0,0.1,0.2,0.3,0.4,0.5,0.6,0.7,0.8,0.9,1,1.1,1.2,1.3,1.4,1.5],"labelExpr":"round(datum.value*10) % 2 == 0 ? format(datum.value, '.1f') : ''"}},
"color":{"field":"s","type":"nominal","legend":null,"scale":{"domain":[0,1,2,3,4,5,6,7,8,9,10,11,12,13,14,15,16],"range":["#000000","#FF0000","#0000FF","#FF00FF","#008000","#000080","#8000FF","#800080","#800000","#808000","#008080","#3A7FC0","#C07820","#2E8B8B","#20C040","#E0307A","#30C8D0"]}}
}}
],"spacing":38}
]
}
